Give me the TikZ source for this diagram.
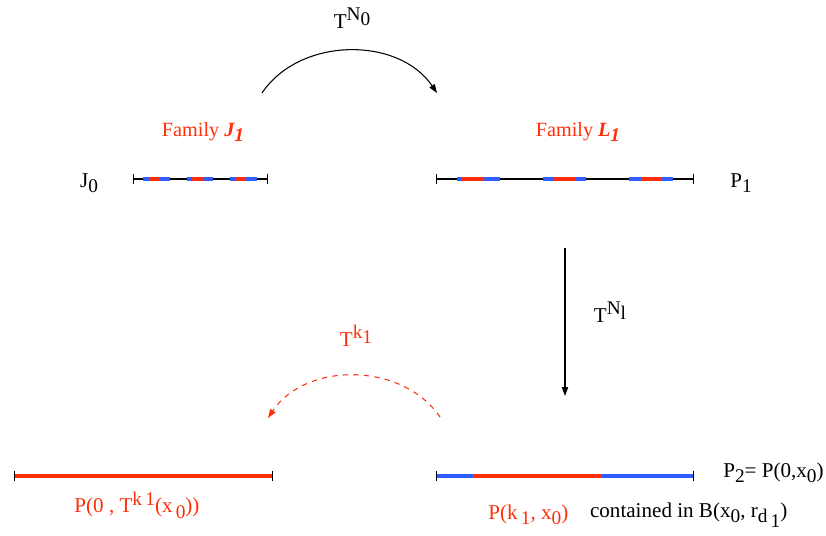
\documentclass[tikz,border=0pt]{standalone}
\usepackage{fontspec}
\setmainfont{Liberation Serif}
\usepackage{tikz}
\usetikzlibrary{positioning,arrows.meta}
\definecolor{figred}{RGB}{255,45,10}
\definecolor{figblue}{RGB}{45,95,255}
\newcommand{\up}[1]{\raisebox{0.8ex}{\fontsize{11}{11}\selectfont #1}}
\newcommand{\dn}[1]{\raisebox{-0.55ex}{\fontsize{11}{11}\selectfont #1}}

\begin{document}
\begin{tikzpicture}[x=0.02cm, y=-0.02cm,
  every node/.style={font=\fontsize{12}{14}\selectfont, inner sep=0pt},
  seg/.style={line width=0.6pt, {Bar[width=6pt]}-{Bar[width=6pt]}},
  bluebit/.style={figblue, line width=2pt},
  redbit/.style={figred, line width=2.6pt},
  map/.style={-{Triangle[length=5pt,width=3.5pt]}, line width=0.6pt},
  redtxt/.style={text=figred}
]
  \useasboundingbox (0,0) rectangle (826,536);

  % top row
  \coordinate (j0a) at (133,179);
  \coordinate (j0b) at (268,179);
  \coordinate (p1a) at (436,179);
  \coordinate (p1b) at (694,179);
  \draw[seg] (j0a) -- (j0b);
  \draw[seg] (p1a) -- (p1b);
  \foreach \a/\b/\c/\d in {143/170/149/160, 187/213/192/203, 230/257/236/246} {
    \draw[bluebit] (\a,179) -- (\b,179);
    \draw[redbit] (\c,179) -- (\d,179);
  }
  \foreach \a/\b/\c/\d in {457/500/462/484, 543/586/554/576, 629/673/641/662} {
    \draw[bluebit] (\a,179) -- (\b,179);
    \draw[redbit] (\c,179) -- (\d,179);
  }
  \node (j0) at (89,183) {J\dn{0}};
  \node (p1) at (741,183) {P\dn{1}};
  \node[redtxt, font=\fontsize{11.5}{13}\selectfont] (famj) at (203,132) {Family \textbf{\textit{J\dn{1}}}};
  \node[redtxt, font=\fontsize{11.5}{13}\selectfont] (faml) at (578,132) {Family \textbf{\textit{L\dn{1}}}};

  % T^N0
  \coordinate (n0a) at (262,93);
  \coordinate (n0b) at (437,93);
  \draw[map] (n0a) to[bend left=56] (n0b);
  \node (tn0) at (352,18) {T\up{N\dn{0}}};

  % T^N1
  \coordinate (n1a) at (565,248);
  \coordinate (n1b) at (565,396);
  \draw[map] (n1a) -- (n1b);
  \node (tn1) at (610,312) {T\up{N\dn{l}}};

  % T^k1
  \coordinate (k1a) at (440,417);
  \coordinate (k1b) at (268,418);
  \draw[map, figred, dashed] (k1a) to[bend right=56] (k1b);
  \node[redtxt] (tk1) at (356,336) {T\up{k\dn{1}}};

  % bottom row
  \coordinate (pla) at (14,476);
  \coordinate (plb) at (273,476);
  \coordinate (p2a) at (436,476);
  \coordinate (p2b) at (694,476);
  \draw[seg] (pla) -- (plb);
  \draw[figred, line width=2.2pt] (15,476) -- (272,476);
  \draw[seg] (p2a) -- (p2b);
  \draw[bluebit] (437,476) -- (693,476);
  \draw[redbit] (473,476) -- (602,476);
  \node[redtxt] (pl) at (137,505) {P(0 , T\up{k\,1}(x\dn{\,0}))};
  \node[anchor=east] (p2) at (824,473) {P\dn{2}= P(0,x\dn{0})};
  \node[redtxt, anchor=west] (pk) at (488,515) {P(k\dn{\,1}, x\dn{0})};
  \node[anchor=west, right=12pt of pk] (ball) {contained in B(x\dn{0}, r\dn{d\dn{\,1}})};
\end{tikzpicture}
\end{document}
